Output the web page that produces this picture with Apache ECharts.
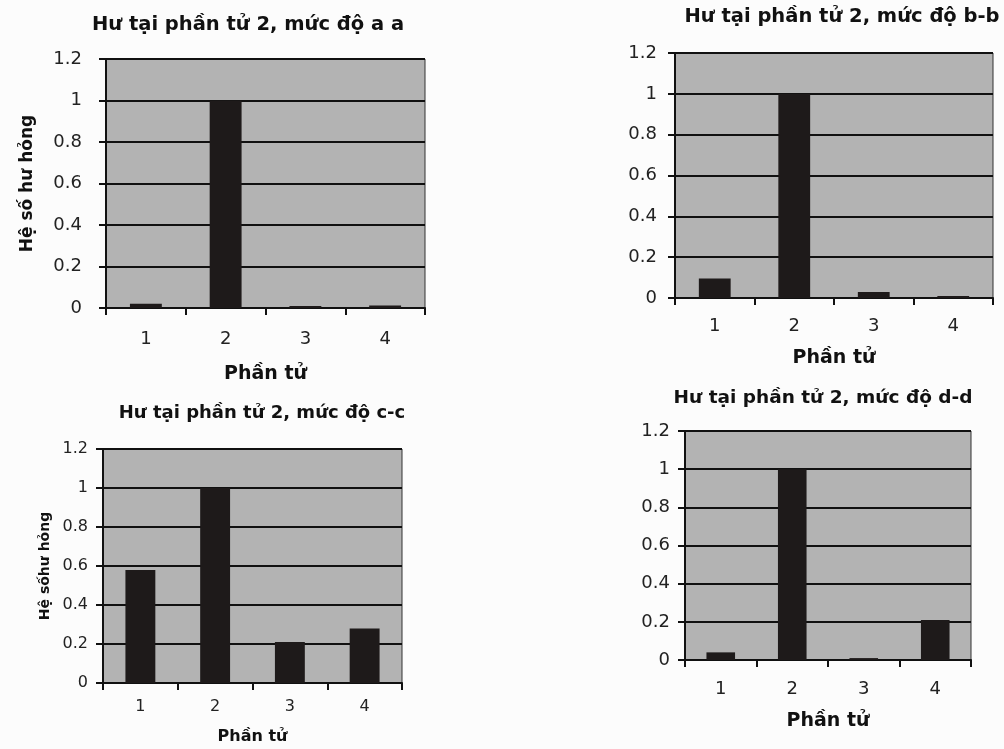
<!DOCTYPE html>
<html>
<head>
<meta charset="utf-8">
<script src="https://cdn.jsdelivr.net/npm/echarts@6/dist/echarts.min.js"></script>
<style>
  html, body { margin: 0; padding: 0; background: #fcfcfc; }
  #main { width: 1004px; height: 749px; }
</style>
</head>
<body>
<div id="main"></div>
<script>
// ---- data ----
const categories = ['1', '2', '3', '4'];
const titles = [
  'Hư tại phần tử 2, mức độ a a',
  'Hư tại phần tử 2, mức độ b-b',
  'Hư tại phần tử 2, mức độ c-c',
  'Hư tại phần tử 2, mức độ d-d'
];
const valuesA = [0.02, 1.0, 0.01, 0.012];
const valuesB = [0.095, 1.0, 0.03, 0.01];
const valuesC = [0.58, 1.0, 0.21, 0.28];
const valuesD = [0.04, 1.0, 0.01, 0.21];
const yTicks = [0, 0.2, 0.4, 0.6, 0.8, 1, 1.2];
const xName = 'Phần tử';
const yNames = ['Hệ số hư hỏng', '', 'Hệ sốhư hỏng', ''];

// ---- layout (styles) ----
const FONT = 'DejaVu Sans';
const panels = [
  { grid: {left: 106, top: 59, width: 319, height: 249}, title: [248, 25], tfs: 19.5, lfs: 18, ylm: 24, xlm: 22, xng: 57, yng: 70, yfs: 17, nfs: 19 },
  { grid: {left: 675, top: 53, width: 318, height: 245}, title: [842, 17], tfs: 19.5, lfs: 18, ylm: 18, xlm: 19, xng: 51, yng: 60, yfs: 17, nfs: 19 },
  { grid: {left: 103, top: 449, width: 299, height: 234}, title: [262, 413], tfs: 18, lfs: 16, ylm: 15, xlm: 16, xng: 46, yng: 51, yfs: 14, nfs: 16 },
  { grid: {left: 685, top: 431, width: 286, height: 229}, title: [823, 398], tfs: 18.5, lfs: 18, ylm: 15, xlm: 20, xng: 52, yng: 60, yfs: 17, nfs: 19 }
];
const seriesData = [valuesA, valuesB, valuesC, valuesD];

const option = {
  backgroundColor: '#fcfcfc',
  animation: false,
  title: panels.map((p, i) => ({
    text: titles[i],
    left: p.title[0], top: p.title[1],
    textAlign: 'center', textVerticalAlign: 'middle',
    padding: 0,
    textStyle: { fontFamily: FONT, fontWeight: 'bold', fontSize: p.tfs, color: '#111' }
  })),
  grid: panels.map(p => Object.assign({
    show: true, backgroundColor: '#b3b3b3', borderColor: '#333', borderWidth: 1
  }, p.grid)),
  xAxis: panels.map((p, i) => ({
    type: 'category', gridIndex: i, data: categories,
    name: xName, nameLocation: 'middle', nameGap: p.xng,
    nameTextStyle: { fontFamily: FONT, fontWeight: 'bold', fontSize: p.nfs, color: '#111' },
    axisLine: { lineStyle: { color: '#111', width: 2 } },
    axisTick: { show: true, length: 7, lineStyle: { color: '#111', width: 2 } },
    axisLabel: { fontFamily: FONT, fontSize: p.lfs, color: '#222', margin: p.xlm },
    splitLine: { show: false }
  })),
  yAxis: panels.map((p, i) => ({
    type: 'value', gridIndex: i, min: 0, max: 1.2, interval: 0.2,
    name: yNames[i], nameLocation: 'middle', nameGap: p.yng, nameRotate: 90,
    nameTextStyle: { fontFamily: FONT, fontWeight: 'bold', fontSize: p.yfs, color: '#111' },
    axisLine: { show: true, lineStyle: { color: '#111', width: 2 } },
    axisTick: { show: true, length: 7, lineStyle: { color: '#111', width: 2 } },
    axisLabel: {
      fontFamily: FONT, fontSize: p.lfs, color: '#222', margin: p.ylm,
      customValues: yTicks
    },
    splitLine: { show: true, lineStyle: { color: '#111', width: 2 } }
  })),
  series: seriesData.map((d, i) => ({
    type: 'bar', xAxisIndex: i, yAxisIndex: i, data: d,
    barWidth: '40%',
    itemStyle: { color: '#1e1a1a' }
  }))
};

const chart = echarts.init(document.getElementById('main'), null, { renderer: 'canvas' });
chart.setOption(option);
</script>
</body>
</html>
